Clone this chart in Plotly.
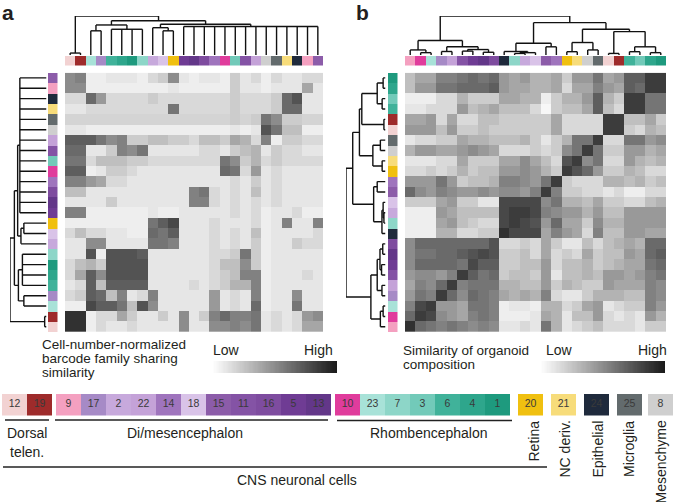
import plotly.graph_objects as go

W, H = 674, 502
FONT = "Arial, 'Liberation Sans', Helvetica, sans-serif"
INK = "#231f20"

# ---------------- data ----------------
cat_colors = {
    12: '#f2d2d2', 19: '#9e2b2b', 9: '#f4a0c0', 17: '#a68ac6', 2: '#c7a9dc',
    22: '#c4a2d8', 14: '#9f74bd', 18: '#d9c3e8', 15: '#8c5ca9', 11: '#8453a5',
    16: '#7e4c9f', 5: '#6f3c94', 13: '#633789', 10: '#e03c9c', 23: '#a8e2d8',
    7: '#8dd6c8', 3: '#72cab9', 6: '#40b29a', 4: '#2ea68c', 1: '#1e9a7e',
    20: '#f0c010', 21: '#f7dc7a', 24: '#1f2a3c', 25: '#636b6d', 8: '#cfcfcf',
}

# leaf order (columns, left to right); rows are the reverse (top to bottom)
order_a = [12, 19, 23, 17, 6, 4, 1, 7, 2, 18, 20, 5, 13, 16, 14, 10, 3, 11, 22, 8, 25, 21, 24, 9, 15]
order_b = [9, 10, 23, 17, 22, 11, 5, 13, 16, 24, 7, 2, 18, 15, 14, 20, 21, 8, 25, 12, 19, 6, 3, 4, 1]

# panel a: barcode family sharing similarity (0 = low, 10 = high), rows top->bottom
sim_a = [
    [5, 5.5, 1, 1, 1.5, 1.5, 1.5, 1, 2, 2.5, 5, 1.5, 1, 1.5, 1.5, 1, 2.5, 1.5, 2, 1, 2, 1.5, 1.5, 2, 2],
    [5, 5, 1, 1, 1, 1, 1, 1, 1, 1, 1.5, 1, 1, 1, 1, 1, 2.5, 1.5, 1.5, 1, 1.5, 1.5, 1.5, 4, 1.5],
    [2, 2, 6.5, 4.5, 2, 2, 2, 2, 2.5, 2, 2, 2, 2, 2, 2, 2, 2.5, 2, 2, 2, 2.5, 6.5, 7.5, 1.5, 1.5],
    [1.5, 1.5, 2, 2, 2, 2, 2, 2, 2, 2, 6, 2, 2, 2, 2, 2, 2.5, 2, 2, 2, 2.5, 6.5, 6.5, 1.5, 1.5],
    [2.2, 2.2, 2.2, 2.2, 2.2, 2.2, 2.2, 2.2, 2.2, 2.2, 2.2, 2.2, 2.2, 2.2, 2.2, 2.2, 2.5, 2.2, 2.5, 6, 5, 2.5, 2.5, 2.2, 2.2],
    [1.5, 1.5, 1, 1, 1, 1, 1, 1, 1, 1, 1, 1, 1, 1, 1, 1, 1.5, 1, 1.5, 7.5, 6, 3, 3, 1, 1],
    [7, 7, 7, 6, 5, 5.5, 2.5, 2.5, 3, 3, 2.5, 2.5, 2, 3, 3, 2.5, 4, 3.5, 2, 5.5, 1, 2.5, 2.5, 2, 2],
    [6.5, 6.5, 1.5, 1.5, 2.5, 5.5, 5, 6, 1.5, 1.5, 1.5, 1.5, 1.5, 2, 2, 1.5, 2.5, 3, 3.5, 1.5, 2.5, 2, 2, 1.5, 1.5],
    [6, 6, 2, 3, 3, 3, 2.5, 2.5, 2, 2, 2, 2, 2, 2, 2, 6, 5, 2.5, 3.5, 2, 2.5, 2, 2, 2, 2],
    [7, 7, 1, 1.5, 2.5, 2.5, 2, 1.5, 1.5, 1.5, 1.5, 1.5, 1.5, 1.5, 1.5, 6.5, 6, 2, 4.5, 1.5, 2, 1.5, 1.5, 1.5, 1.5],
    [5.5, 5.5, 4.5, 4, 2, 2, 1.5, 1.5, 1.5, 1.5, 1.5, 1.5, 1.5, 1.5, 1.5, 1.5, 2, 1.5, 2.5, 1.5, 2, 1.5, 1.5, 1.5, 1.5],
    [3, 3, 1.5, 1.5, 1.5, 1.5, 1.5, 1.5, 1.5, 1.5, 1.5, 1.5, 5.5, 6, 2, 1.5, 2, 1.5, 3, 1.5, 2, 1.5, 1.5, 1.5, 1.5],
    [1.5, 1.5, 1.5, 1.5, 2.5, 1.5, 1.5, 1.5, 1.5, 1.5, 1.5, 1.5, 5.5, 5.5, 2, 1.5, 2, 1.5, 2, 1.5, 2, 1.5, 1.5, 1.5, 1.5],
    [5.5, 5.5, 1, 1, 1, 1, 1, 1, 1.5, 1, 1, 1.5, 1.5, 1.5, 1.5, 1.5, 2, 1.5, 2, 1, 1.5, 1.5, 2, 1, 1],
    [1, 1, 1, 1, 1, 1, 1, 1, 6, 7, 8, 1.5, 1.5, 1.5, 2, 1.5, 1.5, 1.5, 2, 1, 1.5, 5.5, 1.5, 1.5, 5.5],
    [2, 3, 2, 2, 1.5, 1.5, 1, 1, 6.5, 6, 7, 1.5, 1.5, 1.5, 2, 1.5, 2, 1.5, 3, 1, 1.5, 1.5, 1.5, 1.5, 2],
    [1.5, 1.5, 5, 5, 1.5, 1.5, 1.5, 1.5, 6, 6, 5.5, 1.5, 1.5, 1.5, 2, 1.5, 2, 1.5, 2.5, 1, 1.5, 1.5, 2.5, 2, 2],
    [1.5, 1.5, 7.5, 1, 7.5, 7.5, 7.5, 7, 1.5, 1.5, 1.5, 1.5, 1.5, 1.5, 2, 2, 2.5, 6, 2.5, 1, 1.5, 1.5, 1.5, 1.5, 1.5],
    [2, 3, 3.5, 2.5, 7.5, 7.5, 7.5, 7.5, 1.5, 1.5, 1.5, 1.5, 1.5, 1.5, 2, 3, 3, 5, 2.5, 1, 1.5, 1.5, 1.5, 1.5, 1.5],
    [2, 4, 7, 5, 7.5, 7.5, 7.5, 7.5, 1.5, 1.5, 1.5, 1.5, 1.5, 1.5, 2, 2.5, 3, 5.5, 5.5, 1, 1.5, 1.5, 1.5, 2, 1.5],
    [1.5, 2, 7, 3, 7, 7, 7, 7, 1.5, 1.5, 1.5, 1.5, 2, 1.5, 2, 2.5, 3.5, 3.5, 5.5, 1, 1.5, 1.5, 1.5, 1.5, 1.5],
    [2, 2.5, 7, 6.5, 3, 5.5, 1.5, 2, 5.5, 1.5, 1.5, 1.5, 1.5, 1.5, 4.5, 1.5, 2, 1.5, 5.5, 1, 1.5, 1.5, 5, 1.5, 1.5],
    [1, 1, 8, 7, 7, 6, 3, 7.5, 5, 1.5, 1.5, 1.5, 1.5, 1.5, 4.5, 1.5, 2, 1.5, 6.5, 1, 1.5, 1.5, 6, 1.5, 1.5],
    [9, 9, 1, 2, 2, 4, 2.5, 1.5, 1.5, 2.5, 1.5, 5, 1.5, 2.5, 5.5, 6.5, 5.5, 5.5, 6, 1.5, 2, 1.5, 2, 4.5, 5],
    [9, 9, 1, 2, 1.5, 1.5, 2, 1.5, 1.5, 1.5, 1.5, 5, 1.5, 1.5, 5, 5, 5.5, 5, 6, 1.5, 2, 1.5, 2, 4, 4],
]

# panel b: similarity of organoid composition (0 = low, 10 = high), rows top->bottom
sim_b = [
    [3, 4, 4, 5.5, 5.5, 6, 6.5, 6, 6.5, 4.5, 4, 4.5, 3.5, 3.5, 4, 2.5, 4.5, 4.5, 6, 4, 4.5, 7, 7, 8.5, 8.5],
    [3, 4.5, 4.5, 6, 6, 6.5, 6.5, 6.5, 7, 4.5, 4, 4, 3.5, 3.5, 4, 2, 4, 4, 5.5, 4.5, 4, 7, 6.5, 8.5, 8.5],
    [1, 1, 1, 2, 2, 3.5, 2.5, 2.5, 2.5, 4, 4, 3.5, 3.5, 1, 2.5, 3.5, 3.5, 4.5, 7, 3.5, 2.5, 8.5, 8.5, 6, 6],
    [1.5, 1.5, 2, 2, 2, 4.5, 3, 3.5, 4, 3, 3, 3, 2, 0.5, 2.5, 3, 3, 4, 7, 3, 2, 8.5, 8.5, 6, 6],
    [4, 4, 4.5, 2, 4, 2, 2, 3, 3, 2.5, 2.5, 2.5, 2.5, 2.5, 4, 2, 2, 2, 2, 8.5, 8.5, 3, 3, 4, 2.5],
    [4.5, 4.5, 4.5, 3, 4.5, 2.5, 2.5, 3, 2.5, 2.5, 2.5, 2.5, 2.5, 2.5, 4, 2, 2, 2, 2, 8.5, 8.5, 2.5, 2, 3.5, 3],
    [1.5, 2, 2, 2.5, 2.5, 4, 3.5, 3.5, 3, 3, 3, 3.5, 2.5, 1.5, 2.5, 3.5, 6, 6, 8.5, 2, 2, 6, 6, 4.5, 5],
    [3.5, 4.5, 4.5, 4, 4, 4.5, 5, 4.5, 4, 2, 2, 2, 2.5, 2, 2.5, 5, 6, 8.5, 6, 2.5, 2.5, 4.5, 4.5, 3.5, 4],
    [1.5, 1.5, 1.5, 2, 2, 4, 2.5, 2.5, 2.5, 4, 4, 5, 4, 3, 2, 7.5, 8.5, 5, 6, 2, 2, 4.5, 3.5, 3, 3.5],
    [2, 2, 2.5, 2, 2.5, 3.5, 2.5, 3, 3, 4.5, 4.5, 5, 4.5, 3.5, 2.5, 8.5, 7.5, 6.5, 4.5, 2.5, 2.5, 3.5, 3, 2, 2],
    [4.5, 4.5, 4.5, 6, 4.5, 2.5, 3, 3, 3.5, 5.5, 5.5, 5, 4.5, 6, 8.5, 2.5, 2, 2, 2, 3.5, 3.5, 3, 3.5, 2.5, 3],
    [6.5, 5, 4.5, 5.5, 5, 4.5, 4.5, 5, 4.5, 5, 5, 4.5, 5.5, 8.5, 5.5, 2.5, 2.5, 2, 2, 1.5, 2, 1, 1, 2, 2],
    [2.5, 2.5, 2.5, 4, 4.5, 2.5, 2.5, 1.5, 1.5, 8, 8, 8, 8, 5, 6, 3.5, 3.5, 3, 4, 2.5, 2.5, 2, 2, 3, 3.5],
    [1, 1, 1, 4.5, 4, 3, 3, 3, 3, 8, 8.5, 8.5, 8, 5.5, 5, 4.5, 4.5, 3.5, 4.5, 3, 3, 4.5, 4.5, 4.5, 4.5],
    [1, 1, 1, 4, 4.5, 3, 2.5, 2, 2, 8, 8.5, 8, 7.5, 4.5, 6.5, 4, 4, 2.5, 5, 3.5, 3.5, 4.5, 4.5, 4.5, 4.5],
    [1, 1, 1, 3.5, 3.5, 2, 2, 2.5, 2.5, 9, 8, 8, 8, 4, 5.5, 4.5, 4, 2, 5.5, 3, 3, 4.5, 4.5, 4, 4],
    [5, 6.5, 6.5, 6.5, 6.5, 6.5, 6.5, 6.5, 7.5, 2, 2, 2.5, 2, 4, 2.5, 1.5, 1.5, 3, 2, 3, 3.5, 4, 3.5, 6.5, 6.5],
    [5, 6, 6, 6.5, 6.5, 7, 7.5, 8, 7.5, 2.5, 2.5, 3, 2, 4, 2, 2.5, 2, 4, 2.5, 3, 3, 4.5, 4, 6.5, 7],
    [5, 6.5, 6.5, 6.5, 6.5, 6, 8, 7, 7, 2.5, 2.5, 3, 3, 4.5, 2, 3, 3, 3.5, 2.5, 3, 3.5, 4, 4, 6, 6.5],
    [4.5, 5, 5, 4.5, 5.5, 8.5, 7, 6, 6.5, 2.5, 3, 3, 2.5, 4.5, 1.5, 3, 3, 3.5, 3, 4.5, 4.5, 4, 4.5, 5.5, 6],
    [4, 5.5, 5, 6.5, 8.5, 5.5, 6, 6, 6, 3.5, 3.5, 3, 3, 4.5, 2.5, 3.5, 3, 2.5, 2.5, 4.5, 4, 4, 4, 5.5, 5],
    [4.5, 6, 5.5, 8.5, 6.5, 5, 6.5, 6, 5.5, 4, 3.5, 4, 3.5, 5.5, 2, 1.5, 1.5, 2.5, 3.5, 3.5, 3.5, 3, 3, 5.5, 5],
    [5.5, 8, 8.5, 4.5, 4.5, 4, 6, 6, 5.5, 1, 1.5, 1.5, 1, 3.5, 3.5, 2, 2.5, 4, 4.5, 1.5, 2, 2.5, 2.5, 5.5, 4.5],
    [6.5, 8.5, 8, 5, 4.5, 4, 5.5, 6, 5.5, 1, 1, 1, 1.5, 4, 3.5, 1.5, 3, 3, 4.5, 2, 1.5, 2, 1.5, 4.5, 3.5],
    [9, 6.5, 6, 5.5, 6, 5.5, 5, 5.5, 5, 1.5, 1.5, 2, 1.5, 6, 3.5, 1.5, 2, 2.5, 3, 2, 2, 2, 1.5, 2.5, 2.5],
]

# hierarchical clustering merges: (children, height); leaves are column positions, 'mK' = K-th merge
tree_a = [
    ([0, 1], 0.05),
    ([2, 3], 0.62),
    ([4, 5, 6, 7], 0.66),
    (['m1', 'm2'], 0.77),
    ([9, 10], 0.62),
    ([8, 'm4'], 0.70),
    ([11, 12, 13, 14, 15, 16, 17, 18, 19, 20, 21, 22, 23, 24], 0.73),
    (['m5', 'm6'], 0.79),
    (['m3', 'm7'], 0.88),
    (['m0', 'm8'], 1.0),
]
tree_b = [
    ([1, 2], 0.06),
    ([0, 'm0'], 0.13),
    ([3, 4], 0.09),
    ([5, 6], 0.10),
    ([7, 8], 0.07),
    (['m3', 'm4'], 0.14),
    (['m2', 'm5'], 0.21),
    (['m1', 'm6'], 0.37),
    ([10, 11], 0.04),
    (['m8', 12], 0.06),
    ([9, 'm9'], 0.09),
    ([13, 14], 0.21),
    (['m10', 'm11'], 0.30),
    ([15, 16], 0.085),
    ([17, 18], 0.13),
    (['m13', 'm14'], 0.32),
    ([19, 20], 0.04),
    ([21, 22], 0.085),
    ([23, 24], 0.06),
    (['m17', 'm18'], 0.21),
    (['m16', 'm19'], 0.60),
    (['m15', 'm20'], 0.66),
    (['m12', 'm21'], 0.83),
    (['m7', 'm22'], 1.0),
]

legend_groups = [[12, 19], [9, 17, 2, 22, 14, 18, 15, 11, 16, 5, 13], [10, 23, 7, 3, 6, 4, 1],
                 [20], [21], [24], [25], [8]]
gradient = list(range(101))

for m in sim_a + sim_b:
    assert len(m) == 25

# ---------------- helpers ----------------
layout_axes = {}


def axes(n, x0, x1, y0, y1, xr, yr):
    s = '' if n == 1 else str(n)
    layout_axes[f'xaxis{s}'] = dict(domain=[x0 / W, x1 / W], range=xr, visible=False,
                                    anchor=f'y{s}', fixedrange=True)
    layout_axes[f'yaxis{s}'] = dict(domain=[1 - y1 / H, 1 - y0 / H], range=yr, visible=False,
                                    anchor=f'x{s}', fixedrange=True)
    return f'x{s}', f'y{s}'


def dendro_segments(tree, n):
    pos = {i: float(i) for i in range(n)}
    hgt = {i: 0.0 for i in range(n)}
    a, b = [], []
    for k, (kids, h) in enumerate(tree):
        ps = [pos[c] for c in kids]
        for c in kids:
            a += [pos[c], pos[c], None]
            b += [hgt[c], h, None]
        a += [min(ps), max(ps), None]
        b += [h, h, None]
        pos[f'm{k}'] = (ps[0] + ps[-1]) / 2
        hgt[f'm{k}'] = h
    return a, b


GRAY = [[0, '#ffffff'], [0.15, '#e6e6e6'], [0.5, '#8c8c8c'], [1, '#1a1a1a']]
GRAD = [[0, '#ffffff'], [1, '#1a1a1a']]
N = 25
idx = list(range(N))
fig = go.Figure()

HM_TOP, HM_BOT = 72.7, 332
panels = [
    dict(order=order_a, sim=sim_a, tree=tree_a, hx=(65, 323), rs=(48, 57.5), ld=(10, 46.5), k=0),
    dict(order=order_b, sim=sim_b, tree=tree_b, hx=(405, 666), rs=(387.5, 397.5), ld=(346, 385.5), k=1),
]

for p in panels:
    k = p['k']
    hx = p['hx']
    xa, ya = axes(1 + k, hx[0], hx[1], HM_TOP, HM_BOT, [-0.5, N - 0.5], [N - 0.5, -0.5])
    fig.add_trace(go.Heatmap(z=p['sim'], x=idx, y=idx, colorscale=GRAY, zmin=0, zmax=10,
                             showscale=False, xaxis=xa, yaxis=ya, hoverinfo='skip'))
    xa, ya = axes(3 + k, hx[0], hx[1], 56, 65.5, [-0.5, N - 0.5], [0, 1])
    fig.add_trace(go.Bar(x=idx, y=[1] * N, width=1,
                         marker=dict(color=[cat_colors[c] for c in p['order']], line_width=0),
                         xaxis=xa, yaxis=ya, hoverinfo='skip'))
    xa, ya = axes(5 + k, p['rs'][0], p['rs'][1], HM_TOP, HM_BOT, [0, 1], [N - 0.5, -0.5])
    fig.add_trace(go.Bar(y=idx, x=[1] * N, width=1, orientation='h',
                         marker=dict(color=[cat_colors[c] for c in p['order'][::-1]], line_width=0),
                         xaxis=xa, yaxis=ya, hoverinfo='skip'))
    along, height = dendro_segments(p['tree'], N)
    xa, ya = axes(7 + 2 * k, hx[0], hx[1], 16, 55, [-0.5, N - 0.5], [0, 1])
    fig.add_trace(go.Scatter(x=along, y=height, mode='lines', line=dict(color='#111', width=1.4),
                             xaxis=xa, yaxis=ya, hoverinfo='skip'))
    xa, ya = axes(8 + 2 * k, p['ld'][0], p['ld'][1], HM_TOP, HM_BOT, [1, 0], [-0.5, N - 0.5])
    fig.add_trace(go.Scatter(x=height, y=along, mode='lines', line=dict(color='#111', width=1.4),
                             xaxis=xa, yaxis=ya, hoverinfo='skip'))

for n, (x0, x1) in zip((11, 12), ((212, 337), (540, 665))):
    xa, ya = axes(n, x0, x1, 361, 373, [-0.5, 100.5], [-0.5, 0.5])
    fig.add_trace(go.Heatmap(z=[gradient], x=gradient, y=[0], colorscale=GRAD, zmin=0, zmax=100,
                             showscale=False, xaxis=xa, yaxis=ya, hoverinfo='skip'))

box_w = 25
group_gaps = [4, 4, 8, 8, 8, 8, 6]
centers, cats = [], []
xcur = 2
for gi, g in enumerate(legend_groups):
    for c in g:
        centers.append(xcur + box_w / 2)
        cats.append(c)
        xcur += box_w
    if gi < len(group_gaps):
        xcur += group_gaps[gi]
xa, ya = axes(13, 0, W, 394, 415.5, [0, W], [0, 1])
fig.add_trace(go.Bar(x=centers, y=[1] * len(cats), width=box_w,
                     marker=dict(color=[cat_colors[c] for c in cats], line_width=0),
                     xaxis=xa, yaxis=ya, hoverinfo='skip'))
fig.add_trace(go.Scatter(x=centers, y=[0.5] * len(cats), mode='text', text=[str(c) for c in cats],
                         textfont=dict(size=10.5, color='#3a3a3a', family=FONT),
                         xaxis=xa, yaxis=ya, hoverinfo='skip'))

annotations = []


def ann(text, x, y, xanchor='left', yanchor='middle', size=14, bold=False, angle=0):
    annotations.append(dict(
        text=f'<b>{text}</b>' if bold else text, x=x / W, y=1 - y / H, xref='paper', yref='paper',
        xanchor=xanchor, yanchor=yanchor, showarrow=False, textangle=angle,
        font=dict(size=size, color=INK, family=FONT), borderpad=0))


ann('a', 1, 0, yanchor='top', size=21, bold=True)
ann('b', 355, 0, yanchor='top', size=21, bold=True)
ann('Cell-number-normalized', 41, 344, size=13.5)
ann('barcode family sharing', 41, 358, size=13.5)
ann('similarity', 41, 372, size=13.5)
ann('Low', 212, 350)
ann('High', 334, 350, xanchor='right')
ann('Similarity of organoid', 402, 350, size=13.5)
ann('composition', 402, 364, size=13.5)
ann('Low', 545, 350)
ann('High', 668, 350, xanchor='right')
ann('Dorsal', 27, 433, xanchor='center')
ann('telen.', 27, 452, xanchor='center')
ann('Di/mesencephalon', 185, 433, xanchor='center')
ann('Rhombencephalon', 429, 433, xanchor='center')
ann('CNS neuronal cells', 297, 480, xanchor='center')
for label, xc in (('Retina', 533), ('NC deriv.', 564), ('Epithelial', 597),
                  ('Microglia', 629), ('Mesenchyme', 660)):
    ann(label, xc, 420, xanchor='center', yanchor='top', angle=-90)

shapes = []
for x0, x1, y in ((5, 49, 420), (55, 328, 420), (337, 512, 420.5), (3, 547, 467)):
    shapes.append(dict(type='line', xref='paper', yref='paper', x0=x0 / W, x1=x1 / W,
                       y0=1 - y / H, y1=1 - y / H, line=dict(color='#222', width=1.5)))

fig.update_layout(
    width=W, height=H, margin=dict(l=0, r=0, t=0, b=0),
    paper_bgcolor='white', plot_bgcolor='white', showlegend=False,
    hovermode=False, bargap=0, annotations=annotations, shapes=shapes,
    font=dict(family=FONT, color=INK), **layout_axes)

fig.write_html('out.html', config={'displayModeBar': False},
               post_script="document.body.style.margin='0';document.body.style.overflow='hidden';")
